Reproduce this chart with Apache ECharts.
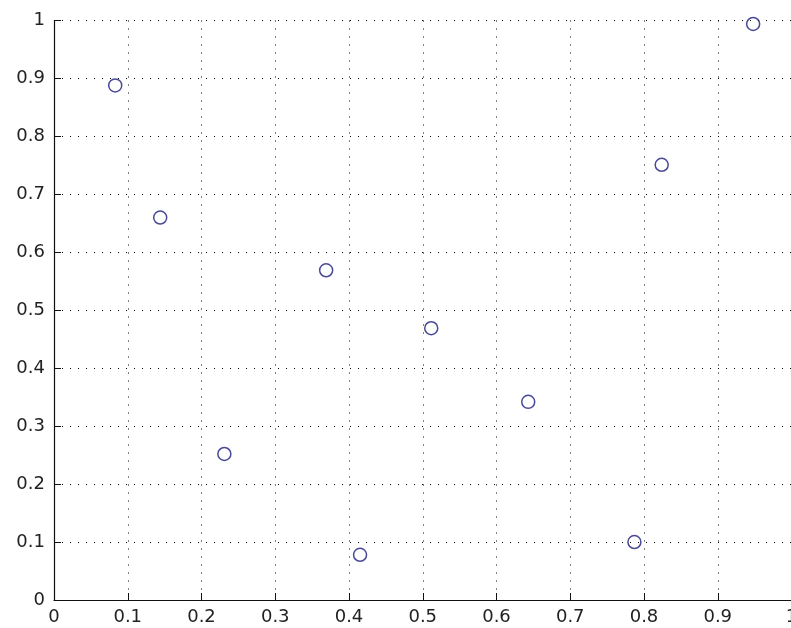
<!DOCTYPE html>
<html>
<head>
<meta charset="utf-8">
<script src="https://cdn.jsdelivr.net/npm/echarts@6/dist/echarts.min.js"></script>
<style>
  html, body { margin: 0; padding: 0; background: #ffffff; }
  #chart { width: 791px; height: 628px; }
</style>
</head>
<body>
<div id="chart"></div>
<script>
// Sample points (x, y)
const xValues = [0.083, 0.144, 0.231, 0.369, 0.415, 0.5115, 0.643, 0.787, 0.824, 0.948];
const yValues = [0.888, 0.660, 0.252, 0.569, 0.078, 0.469, 0.342, 0.100, 0.751, 0.994];

// Axis ticks
const xTicks = [0, 0.1, 0.2, 0.3, 0.4, 0.5, 0.6, 0.7, 0.8, 0.9, 1];
const yTicks = [0, 0.1, 0.2, 0.3, 0.4, 0.5, 0.6, 0.7, 0.8, 0.9, 1];

const points = xValues.map((x, i) => [x, yValues[i]]);

const labelFont = {
  fontFamily: 'DejaVu Sans, sans-serif',
  fontSize: 18,
  color: '#222'
};

const gridDots = { color: '#000', width: 1, type: [1, 7] };

const chart = echarts.init(document.getElementById('chart'), null, { renderer: 'canvas' });
chart.setOption({
  animation: false,
  backgroundColor: '#ffffff',
  grid: {
    left: 54, top: 20.5, width: 737.5, height: 579.5,
    containLabel: false,
    outerBoundsMode: 'none'
  },
  xAxis: {
    type: 'value',
    min: xTicks[0],
    max: xTicks[xTicks.length - 1],
    interval: 0.1,
    axisLine: { show: true, onZero: false, lineStyle: { color: '#111', width: 1.2 } },
    axisTick: { show: true, inside: true, length: 7, lineStyle: { color: '#111' } },
    axisLabel: Object.assign({ margin: 8, formatter: v => String(+v.toFixed(1)), showMaxLabel: true }, labelFont),
    splitLine: { show: true, lineStyle: gridDots }
  },
  yAxis: {
    type: 'value',
    min: yTicks[0],
    max: yTicks[yTicks.length - 1],
    interval: 0.1,
    axisLine: { show: true, onZero: false, lineStyle: { color: '#111', width: 1.2 } },
    axisTick: { show: true, inside: true, length: 7, lineStyle: { color: '#111' } },
    axisLabel: Object.assign({ margin: 9, formatter: v => String(+v.toFixed(1)) }, labelFont),
    splitLine: { show: true, lineStyle: gridDots }
  },
  series: [{
    type: 'scatter',
    data: points,
    symbol: 'circle',
    symbolSize: 13,
    itemStyle: { color: 'transparent', borderColor: '#1c1c7c', borderWidth: 1.5 },
    emphasis: { disabled: true }
  }]
});
</script>
</body>
</html>
